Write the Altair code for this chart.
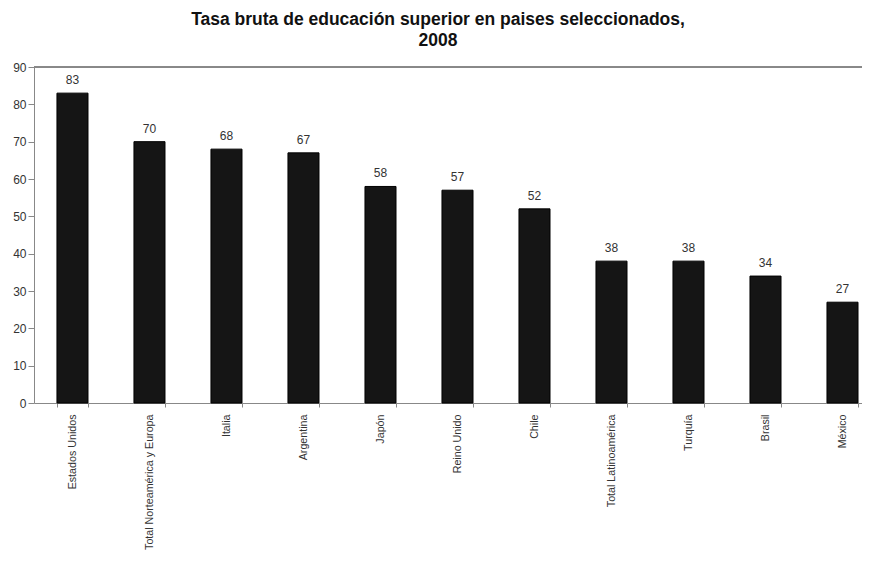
import altair as alt
import pandas as pd

paises = ["Estados Unidos", "Total Norteamérica y Europa", "Italia", "Argentina",
          "Japón", "Reino Unido", "Chile", "Total Latinoamérica", "Turquía",
          "Brasil", "México"]
tasas = [83, 70, 68, 67, 58, 57, 52, 38, 38, 34, 27]
y_ticks = [0, 10, 20, 30, 40, 50, 60, 70, 80, 90]

df = pd.DataFrame({"pais": paises, "tasa": tasas})

FONT = "Liberation Sans"

x = alt.X("pais:N", sort=paises, title=None,
          scale=alt.Scale(paddingInner=0.597, paddingOuter=0.175, align=0.852),
          axis=alt.Axis(labelAngle=-90, labelAlign="right", labelBaseline="middle",
                        labelPadding=7, tickBand="extent", tickSize=4,
                        labelFont=FONT, labelFontSize=10.7, labelColor="#333333",
                        domainColor="#888888", tickColor="#888888", labelLimit=300))
y_scale = alt.Scale(domain=[0, 90])
y_axis = alt.Axis(values=y_ticks, grid=False, tickSize=6, labelOverlap=False,
                  labelPadding=2, labelFont=FONT, labelFontSize=12,
                  labelColor="#333333", domainColor="#888888",
                  tickColor="#888888")
y = alt.Y("tasa:Q", title=None, scale=y_scale, axis=y_axis)

bars = alt.Chart(df).mark_bar(color="#151515", stroke="#000000", strokeWidth=1).encode(x=x, y=y)
text = alt.Chart(df).mark_text(dy=-6, baseline="bottom", font=FONT, fontSize=12,
                               color="#333333").encode(x=x, y=y, text="tasa:Q")
top = alt.Chart(df).mark_rule(color="#888888", strokeWidth=1).encode(
    y=alt.YDatum(90, title=None, scale=y_scale, axis=y_axis))

chart = (top + bars + text).properties(
    width=828, height=336,
    autosize=alt.AutoSizeParams(type="none"),
    padding={"left": 26, "top": 59, "right": 0, "bottom": 147},
    title=alt.TitleParams(
        text=["Tasa bruta de educación superior en paises seleccionados,", "2008"],
        font=FONT, fontSize=17.5, fontWeight="bold", color="#111111",
        anchor="middle", lineHeight=21, offset=12, dx=-10),
).configure_view(stroke=None)

chart.save("out.html", embed_options={"renderer": "svg", "actions": False})
